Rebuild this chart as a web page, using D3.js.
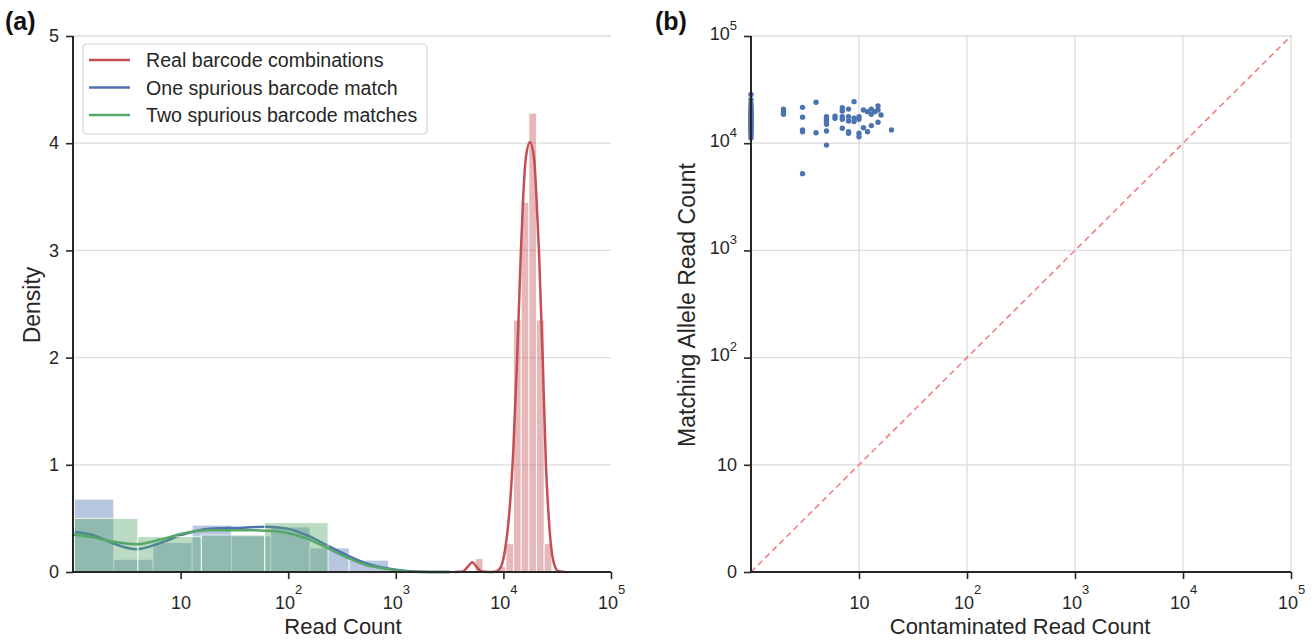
<!DOCTYPE html>
<html><head><meta charset="utf-8">
<script src="https://cdn.jsdelivr.net/npm/d3@7"></script>
<style>
body{margin:0;background:#fff;}
svg{display:block;font-family:"Liberation Sans",Arial,sans-serif;}
</style></head>
<body>
<svg id="chart" width="1314" height="641"></svg>
<script>
// ---------- DATA ----------
const seriesNames = ["Real barcode combinations","One spurious barcode match","Two spurious barcode matches"];
const seriesColors = ["#c44e52","#4c72b0","#55a868"];

// histogram bins (read count edges) and densities (per log10 unit)
const realEdges = [5478,6448,7603,8957,10550,12430,14640,17250,20320,23930,28200];
const realDensity = [0.125,0,0,0.05,0.265,2.35,3.45,4.28,2.35,0.265];
const oneEdges = [1.033,2.391,5.538,12.82,29.69,68.76,159.2,368.6,853.6];
const oneDensity = [0.68,0.118,0.274,0.437,0.336,0.42,0.224,0.11];
const twoEdges = [1.033,4.007,15.58,60.45,234.6];
const twoDensity = [0.50,0.33,0.345,0.46];

// KDE curves: [read count, density]
const realKde = [[3540,0],[4200,0.005],[4670,0.05],[5130,0.09],[5610,0.05],[6180,0.008],[7180,0],[8340,0.003],[9270,0.03],[10330,0.2],[11490,0.62],[12380,1.15],[13430,2.0],[14550,3.0],[15280,3.5],[16190,3.87],[17640,4.01],[19220,3.87],[20280,3.5],[21390,3.0],[23170,2.0],[24850,1.0],[26220,0.55],[27660,0.25],[29490,0.08],[32140,0.01],[37340,0]];
const oneKde = [[1.0,0.376],[1.53,0.345],[2.35,0.268],[3.87,0.212],[6.38,0.268],[10.5,0.35],[18.6,0.404],[38,0.413],[62.7,0.423],[96,0.407],[147.6,0.345],[226.6,0.252],[347.7,0.159],[533.6,0.081],[819,0.035],[1259,0.01],[1672,0.003],[3160,0]];
const twoKde = [[1.0,0.35],[1.53,0.323],[2.35,0.283],[3.87,0.258],[6.38,0.3],[10.5,0.36],[18.6,0.39],[38,0.39],[62.7,0.385],[96,0.367],[147.6,0.314],[226.6,0.227],[347.7,0.137],[533.6,0.065],[819,0.028],[1259,0.006],[1672,0.001],[3160,0]];

// scatter (b): contaminated read count vs matching allele read count
const contaminated = [
 1,1,1,1,1,1,1,1,1,1,1,1,1,1,1,1,1,1,1,1,1,1,1,1,1,1,
 2,2,2, 3,3,3,3,3, 4,4, 5,5,5,5,5,5, 6,6, 7,7,7,7,7, 8,8,8,8,8, 9,9,9, 10,10,10,10, 11,11, 12,12, 13,13,13, 14, 15,15,15, 16, 20];
const matching = [
 11200,11800,12300,12800,13200,13600,14000,14400,14800,15200,15600,16000,16400,16800,17200,17600,18000,18500,19000,19500,20200,21000,22000,23500,25500,28500,
 20800,19700,18600, 21600,17500,13300,12800,5200, 24100,12500, 17700,16700,15900,15000,13000,9600, 17900,17100, 21400,20000,17700,16700,13800, 20800,17700,16100,12800,12400, 24400,17100,15900, 17700,16700,12400,11500, 20400,13950, 19700,12800, 20800,18600,14600, 19700, 22300,20400,15700, 18300, 13300];

const xTicks = [10,100,1000,10000,100000];
const densityTicks = [0,1,2,3,4,5];
const logYTicks = [1,10,100,1000,10000,100000];

// ---------- DRAW ----------
const svg = d3.select("#chart");
const ink = "#262626";

const xL = d3.scaleLog().domain([1,1e5]).range([73,611]);
const yL = d3.scaleLinear().domain([0,5]).range([572,36]);
const xR = d3.scaleLog().domain([1,1e5]).range([751,1291]);
const yR = d3.scaleLog().domain([1,1e5]).range([572,36]);

function powLabel(sel, d, shiftBase, rise){
  sel.text(null);
  if (d === 1){ sel.append("tspan").text("0"); return; }
  const e = Math.round(Math.log10(d));
  const base = sel.append("tspan").text("10");
  if (e > 1){
    if (shiftBase) base.attr("dy", shiftBase);
    sel.append("tspan").attr("font-size","13px").attr("dy", rise || "-1.15em").text(e);
  }
}

// ----- panel (a) -----
const gA = svg.append("g");
gA.selectAll("line.grid").data(densityTicks.filter(d=>d>0)).join("line")
  .attr("x1",73).attr("x2",611).attr("y1",d=>yL(d)).attr("y2",d=>yL(d))
  .attr("stroke","#dddddd").attr("stroke-width",1.3);

function bars(edges, dens, color){
  const bins = dens.map((h,i)=>({x0:edges[i],x1:edges[i+1],h}));
  gA.append("g").selectAll("rect").data(bins.filter(b=>b.h>0)).join("rect")
    .attr("x",b=>xL(b.x0)).attr("width",b=>xL(b.x1)-xL(b.x0))
    .attr("y",b=>yL(b.h)).attr("height",b=>yL(0)-yL(b.h))
    .attr("fill",color).attr("fill-opacity",0.4)
    .attr("stroke","#ffffff").attr("stroke-opacity",0.8).attr("stroke-width",1);
}
const line = d3.line().x(d=>xL(d[0])).y(d=>yL(d[1])).curve(d3.curveMonotoneX);
function kde(pts,color){
  gA.append("path").datum(pts).attr("d",line).attr("fill","none")
    .attr("stroke",color).attr("stroke-width",2.5).attr("stroke-linejoin","round");
}
bars(realEdges, realDensity, seriesColors[0]); kde(realKde, seriesColors[0]);
bars(oneEdges, oneDensity, seriesColors[1]); kde(oneKde, seriesColors[1]);
bars(twoEdges, twoDensity, seriesColors[2]); kde(twoKde, seriesColors[2]);

const axA_x = gA.append("g").attr("transform","translate(0,572)")
  .call(d3.axisBottom(xL).tickValues(xTicks).tickSize(7).tickPadding(17));
axA_x.selectAll(".tick text").each(function(d){ powLabel(d3.select(this), d); });
const axA_y = gA.append("g").attr("transform","translate(73,0)")
  .call(d3.axisLeft(yL).tickValues(densityTicks).tickFormat(d3.format("d")).tickSize(7).tickPadding(7));
[axA_x, axA_y].forEach(a=>{
  a.select(".domain").attr("stroke",ink).attr("stroke-width",2);
  a.selectAll(".tick line").attr("stroke",ink).attr("stroke-width",1.6);
  a.selectAll(".tick text").attr("fill",ink).attr("font-size","18px").attr("font-family","Liberation Sans, Arial, sans-serif");
});
axA_x.select(".domain").attr("d","M72,0H611");
axA_y.select(".domain").attr("d","M0,36V573");

gA.append("text").attr("x",343).attr("y",634).attr("text-anchor","middle")
  .attr("font-size","22px").attr("fill",ink).text("Read Count");
gA.append("text").attr("transform","translate(40,305) rotate(-90)").attr("text-anchor","middle")
  .attr("font-size","23px").attr("fill",ink).text("Density");
svg.append("text").attr("x",5).attr("y",30).attr("font-size","25px").attr("font-weight","bold").attr("fill","#111").text("(a)");

// legend
const lg = gA.append("g").attr("transform","translate(83,44)");
lg.append("rect").attr("width",344).attr("height",90).attr("rx",4)
  .attr("fill","#fff").attr("fill-opacity",0.85).attr("stroke","#d6d6d6").attr("stroke-width",1.2);
seriesNames.forEach((n,i)=>{
  const y = 16 + i*27.5;
  lg.append("line").attr("x1",6).attr("x2",47).attr("y1",y).attr("y2",y)
    .attr("stroke",seriesColors[i]).attr("stroke-width",2.5);
  lg.append("text").attr("x",63).attr("y",y+7).attr("font-size","19.6px").attr("fill",ink).text(n);
});

// ----- panel (b) -----
const gB = svg.append("g");
gB.selectAll("line.gy").data(logYTicks.filter(d=>d>1)).join("line")
  .attr("x1",751).attr("x2",1291).attr("y1",d=>yR(d)).attr("y2",d=>yR(d))
  .attr("stroke","#dddddd").attr("stroke-width",1.3);
gB.selectAll("line.gx").data(xTicks).join("line")
  .attr("y1",36).attr("y2",572).attr("x1",d=>xR(d)).attr("x2",d=>xR(d))
  .attr("stroke","#dddddd").attr("stroke-width",1.3);

gB.append("line").attr("x1",xR(1)).attr("y1",yR(1)).attr("x2",xR(1e5)).attr("y2",yR(1e5))
  .attr("stroke","#f08080").attr("stroke-width",1.6).attr("stroke-dasharray","6,4");

gB.append("g").selectAll("circle").data(contaminated.map((c,i)=>[c,matching[i]])).join("circle")
  .attr("cx",d=>xR(d[0])).attr("cy",d=>yR(d[1])).attr("r",2.7).attr("fill","#4c72b0");

const axB_x = gB.append("g").attr("transform","translate(0,572)")
  .call(d3.axisBottom(xR).tickValues(xTicks).tickSize(7).tickPadding(17));
axB_x.selectAll(".tick text").each(function(d){ powLabel(d3.select(this), d); });
const axB_y = gB.append("g").attr("transform","translate(751,0)")
  .call(d3.axisLeft(yR).tickValues(logYTicks).tickSize(7).tickPadding(7));
axB_y.selectAll(".tick text").each(function(d){ powLabel(d3.select(this), d, "3px", "-0.75em"); });
[axB_x, axB_y].forEach(a=>{
  a.select(".domain").attr("stroke",ink).attr("stroke-width",2);
  a.selectAll(".tick line").attr("stroke",ink).attr("stroke-width",1.6);
  a.selectAll(".tick text").attr("fill",ink).attr("font-size","18px").attr("font-family","Liberation Sans, Arial, sans-serif");
});
axB_x.select(".domain").attr("d","M750,0H1291");
axB_y.select(".domain").attr("d","M0,36V573");

gB.append("text").attr("x",1020).attr("y",634).attr("text-anchor","middle")
  .attr("font-size","22px").attr("fill",ink).text("Contaminated Read Count");
gB.append("text").attr("transform","translate(695,305) rotate(-90)").attr("text-anchor","middle")
  .attr("font-size","23px").attr("fill",ink).text("Matching Allele Read Count");
svg.append("text").attr("x",655).attr("y",30).attr("font-size","25px").attr("font-weight","bold").attr("fill","#111").text("(b)");
</script>
</body></html>
